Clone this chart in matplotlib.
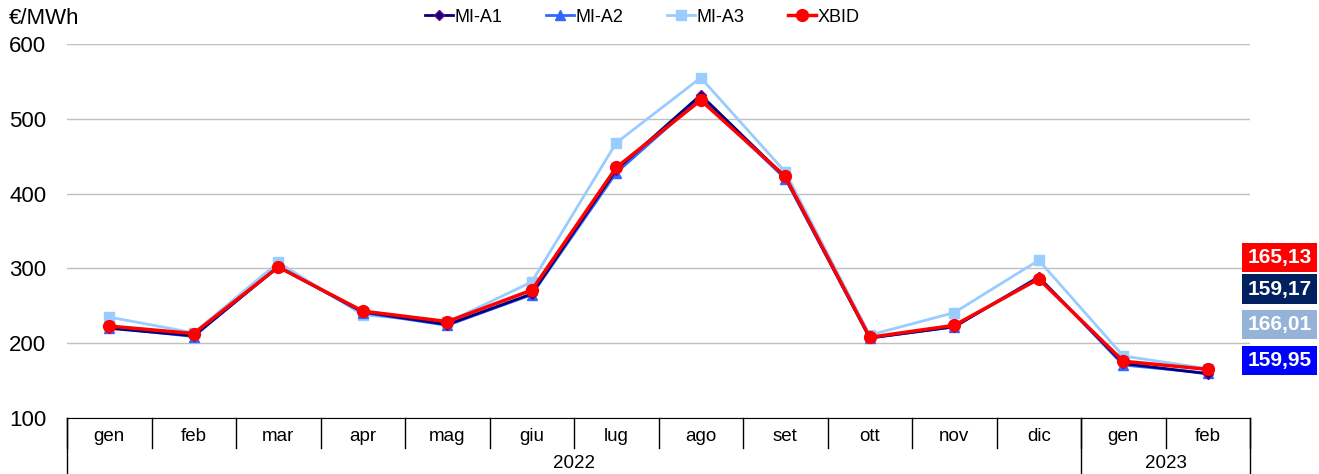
import matplotlib.pyplot as plt
import matplotlib.transforms as mtransforms

plt.rcParams['font.family'] = ['Liberation Sans', 'DejaVu Sans']

months = ['gen', 'feb', 'mar', 'apr', 'mag', 'giu', 'lug', 'ago', 'set', 'ott', 'nov', 'dic', 'gen', 'feb']
years = ['2022', '2023']
year_counts = [12, 2]

mi_a1 = [220, 210, 302, 242, 225, 266, 432, 532, 422, 207, 222, 288, 173, 159.17]
mi_a2 = [221, 209, 303, 241, 224, 265, 428, 528, 420, 207, 222, 289, 171, 159.95]
mi_a3 = [235, 214, 308, 238, 228, 282, 468, 555, 429, 211, 241, 311, 183, 166.01]
xbid = [223, 213, 302, 243, 229, 271, 435, 525, 423, 208, 224, 286, 176, 165.13]

last_labels = ['165,13', '159,17', '166,01', '159,95']
last_colors = ['#FF0000', '#002060', '#95B3D7', '#0000FF']

fig = plt.figure(figsize=(13.19, 4.74), dpi=100)
ax = fig.add_axes([0.0508, 0.118, 0.8969, 0.789])

x = list(range(len(months)))
ax.plot(x, mi_a1, color='#000080', lw=2, marker='D', ms=5, mfc='#000080', mec='#800080', label='MI-A1', zorder=3)
ax.plot(x, mi_a2, color='#3366FF', lw=2, marker='^', ms=7, label='MI-A2', zorder=2)
ax.plot(x, mi_a3, color='#99CCFF', lw=2, marker='s', ms=7.5, label='MI-A3', zorder=1)
ax.plot(x, xbid, color='#FF0000', lw=2.5, marker='o', ms=8.5, label='XBID', zorder=4)

ax.set_xlim(-0.5, len(months) - 0.5)
ax.set_ylim(100, 600)
ax.set_yticks([100, 200, 300, 400, 500, 600])
ax.tick_params(axis='y', length=0, labelsize=16, pad=15)
ax.tick_params(axis='x', length=0, labelbottom=False)
ax.grid(axis='y', color='#C0C0C0', lw=1)
for s in ['left', 'right', 'top']:
    ax.spines[s].set_visible(False)
ax.spines['bottom'].set_color('black')
ax.set_axisbelow(True)

# category table below the axis
tr = mtransforms.blended_transform_factory(ax.transData, ax.transAxes)
for i, m in enumerate(months):
    ax.text(i, -0.05, m, transform=tr, ha='center', va='center', fontsize=13.5)
for i in range(len(months) + 1):
    ax.plot([i - 0.5, i - 0.5], [0, -0.08], transform=tr, color='black', lw=1, clip_on=False)
start = 0
for y, n in zip(years, year_counts):
    ax.text(start + n / 2 - 0.5, -0.122, y, transform=tr, ha='center', va='center', fontsize=13.5)
    ax.plot([start - 0.5, start - 0.5], [0, -0.2], transform=tr, color='black', lw=1, clip_on=False)
    start += n
ax.plot([start - 0.5, start - 0.5], [0, -0.2], transform=tr, color='black', lw=1, clip_on=False)

fig.text(0.007, 0.962, '€/MWh', fontsize=16, ha='left', va='center')
ax.legend(loc='center', bbox_to_anchor=(0.486, 1.072), ncol=4, frameon=False, fontsize=13,
          handlelength=1.6, handletextpad=0.05, columnspacing=2.4)

ys = [0.457, 0.390, 0.316, 0.240]
for lbl, c, yy in zip(last_labels, last_colors, ys):
    fig.text(0.970, yy, lbl, color='white', fontsize=15, fontweight='bold', ha='center', va='center',
             bbox=dict(boxstyle='square,pad=0.25', fc=c, ec='none'))

fig.savefig('out.png', dpi=100)
